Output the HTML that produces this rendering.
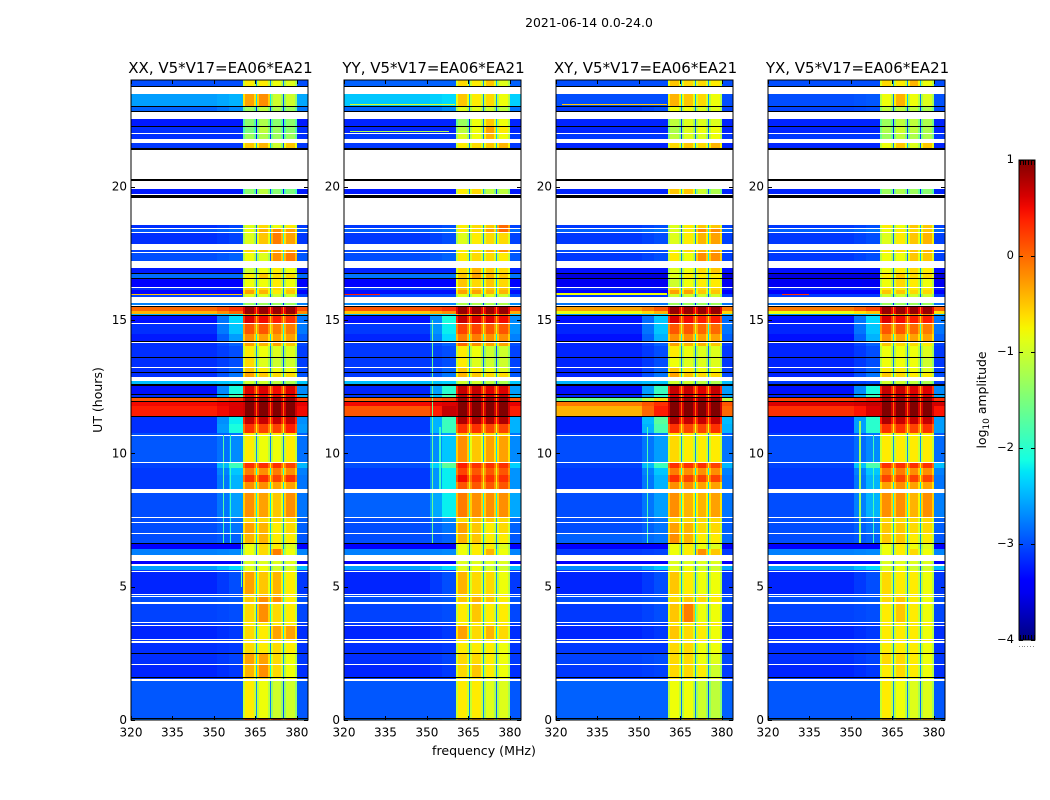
<!DOCTYPE html>
<html lang="en">
<head>
<meta charset="utf-8">
<title>2021-06-14 amplitude spectrograms</title>
<style>
html,body{margin:0;padding:0;background:#fff;width:1050px;height:800px;overflow:hidden}
svg{display:block}
text{font-family:"DejaVu Sans","Liberation Sans",sans-serif;fill:#000}
</style>
</head>
<body>
<svg id="figure" width="1050" height="800" viewBox="0 0 1050 800" xmlns="http://www.w3.org/2000/svg">
  <defs><linearGradient id="jet-gradient" x1="0" y1="1" x2="0" y2="0"></linearGradient></defs>
  <text x="589" y="27" font-size="12.4" text-anchor="middle">2021-06-14 0.0-24.0</text>
  <text x="484" y="755" font-size="12.6" text-anchor="middle">frequency (MHz)</text>
  <text transform="translate(102,400) rotate(-90)" font-size="12.5" text-anchor="middle">UT (hours)</text>
  <text transform="translate(986,400) rotate(-90)" font-size="12.4" text-anchor="middle">log<tspan font-size="9" dy="3">10</tspan><tspan dy="-3"> amplitude</tspan></text>
  <g id="panels"></g>
  <g id="colorbar"></g>
</svg>
<script>
// ---- axis labels ----
const panelTitles = ["XX, V5*V17=EA06*EA21", "YY, V5*V17=EA06*EA21", "XY, V5*V17=EA06*EA21", "YX, V5*V17=EA06*EA21"];
const freqTicks = [320, 335, 350, 365, 380];
const hourTicks = [0, 5, 10, 15, 20];
const colorTicks = [1, 0, -1, -2, -3, -4];

// ---- time rows: [top of row in UT hours, kind]  d=data, w=no data, k=flagged ----
const timeRows = [
[24.00,'d'],[23.78,'k'],[23.72,'w'],[23.49,'k'],[23.46,'d'],[23.04,'k'],[22.99,'d'],[22.85,'k'],[22.81,'w'],
[22.54,'d'],[22.28,'k'],[22.24,'d'],[22.01,'w'],[21.98,'d'],[21.80,'w'],[21.65,'d'],[21.44,'k'],[21.39,'w'],
[20.29,'k'],[20.22,'w'],[19.90,'d'],[19.74,'w'],[19.69,'k'],[19.59,'w'],[18.56,'d'],[18.46,'w'],[18.41,'d'],
[18.30,'w'],[18.26,'d'],[17.86,'w'],[17.63,'d'],[17.54,'w'],[17.50,'d'],[17.21,'w'],[16.94,'d'],[16.75,'k'],
[16.71,'d'],[16.59,'k'],[16.54,'d'],[16.25,'w'],[16.21,'d'],[16.14,'k'],[16.11,'d'],[15.98,'d'],[15.85,'w'],
[15.63,'d'],[15.57,'w'],[15.51,'k'],[15.47,'d'],[15.34,'d'],[15.21,'d'],[15.19,'k'],[15.15,'d'],[14.87,'w'],
[14.84,'d'],[14.49,'k'],[14.46,'d'],[14.22,'k'],[14.19,'w'],[14.15,'d'],[14.02,'d'],[13.60,'k'],[13.56,'d'],
[13.24,'w'],[13.20,'d'],[13.05,'k'],[13.01,'d'],[12.86,'w'],[12.71,'d'],[12.60,'k'],[12.54,'d'],[12.24,'k'],
[12.20,'d'],[12.12,'k'],[12.09,'d'],[11.96,'k'],[11.93,'d'],[11.79,'w'],[11.76,'d'],[11.41,'k'],[11.37,'d'],[11.10,'d'],
[10.78,'k'],[10.75,'d'],[10.69,'w'],[10.66,'d'],[9.66,'w'],[9.63,'d'],[9.45,'d'],[9.19,'d'],[8.92,'d'],
[8.65,'w'],[8.50,'d'],[7.63,'w'],[7.59,'d'],[7.43,'w'],[7.40,'d'],[7.02,'w'],[6.99,'d'],[6.63,'k'],[6.59,'d'],
[6.41,'d'],[6.19,'w'],[5.97,'d'],[5.85,'w'],[5.79,'d'],[5.64,'w'],[5.61,'d'],[5.57,'w'],[5.54,'d'],[4.71,'w'],
[4.68,'d'],[4.64,'w'],[4.60,'d'],[4.41,'w'],[4.36,'d'],[3.68,'w'],[3.63,'d'],[3.56,'w'],[3.51,'d'],[3.03,'w'],
[2.99,'d'],[2.95,'w'],[2.90,'d'],[2.50,'k'],[2.46,'d'],[2.10,'w'],[2.06,'d'],[1.62,'k'],[1.59,'d'],[1.54,'w'],
[1.46,'d'],[0.09,'k'],[0.05,'d']
];

// ---- log10 amplitude per data row: [continuum, roll-on, sub1, sub2, sub3, sub4] ----
const xxLevels = [
[-3,-3,-.7,-.7,-.8,-.9],[-2.6,-2.5,-.3,-.2,-1,-1],[-2.9,-2.7,-1.3,-1.1,-1.2,-1.3],[-3.25,-3.25,-1.4,-1.2,-1.4,-1.4],
[-3.15,-3.15,-1.5,-1.1,-1.3,-1.4],[-3.15,-3.15,-1.3,-1.2,-1.3,-1.3],[-3.1,-3.1,-.5,-.4,-1,-.5],[-3.25,-3.25,-1.4,-1.1,-1.4,-1.5],
[-3.15,-3.05,-.9,-.6,-.8,-.7],[-2.95,-2.85,-.8,-.4,-.2,-.3],[-3.15,-3.05,-.9,-.5,-.1,-.3],[-3.05,-3.05,-.6,-.5,-.3,-.3],
[-3,-2.9,-.8,-.9,-.2,-.1],[-3.25,-3.25,-1,-.8,-.7,-.8],[-2.85,-2.85,-.7,-.5,-.6,-.6],[-3.4,-3.4,-.8,-.8,-.7,-.8],
[-3.15,-3.15,-.6,-.6,-.6,-.6],[-3.35,-3.35,-.3,-.4,-.7,-.5],[-3.05,-3.05,-.9,-.9,-1,-1],[-2.75,-2.75,-1.3,-1.3,-1.3,-1.3],
[0,.3,.9,.9,.9,.9],[-.4,0,.9,.9,.9,.9],[-2.5,-2.2,-.2,-.2,-.2,-.2],[-3.3,-2.3,.6,.5,.4,.3],
[-3.15,-2.4,.1,.1,-.1,-.1],[-3.25,-2.6,-.2,-.3,-.3,-.3],[-3.15,-2.9,-.3,-.4,-.3,-.5],[-3.15,-3,-.7,-.8,-.9,-.9],
[-3.15,-3,-.6,-.9,-1,-1],[-3.15,-2.9,-.5,-.7,-.8,-.8],[-3.15,-2.8,-.3,-.5,-.6,-.6],[-2.45,-2.35,-1,-1,-1.1,-1.2],
[-3.3,-2.1,.6,.6,.5,.6],[-3.15,-1.8,.5,.5,.5,.5],[.1,.3,.9,.9,.9,.9],[.5,.6,1,1,1,1],
[.4,.6,1,1,1,1],[-3.15,-2.2,.7,.7,.7,.7],[-3.15,-2.1,.3,.2,.2,.4],[-3,-2.8,-.7,-.7,-.7,-.7],
[-2.95,-2.7,-.7,-.8,-.8,-.7],[-3.05,-1.9,.3,.3,.3,.2],[-3.1,-2.4,-.1,-.2,-.1,-.2],[-3.1,-2.5,.3,.3,.2,.3],
[-3.1,-2.5,-.2,-.2,-.3,-.3],[-3,-2.6,-.2,-.3,-.5,-.2],[-3,-2.8,-.6,-.6,-.6,-.6],[-3,-2.8,-.3,-.4,-.7,-.6],
[-3,-2.9,-.4,-.4,-.7,-.7],[-3.45,-3.4,-.8,-.6,-.7,-.9],[-2.75,-2.7,-.8,-.6,-.1,-.8],[-3.45,-3.45,-.9,-.9,-.9,-.9],
[-2.6,-2.3,-.9,-.8,-1,-1],[-3.1,-3.1,-.8,-.8,-.8,-.8],[-3.2,-3,-.3,-.5,-.4,-.7],[-3,-3,-.7,-.5,-.5,-.7],
[-3,-2.95,-.5,-.2,-.2,-.7],[-3.05,-3,-.6,-.2,-.6,-.7],[-3.1,-3.1,-.7,-.7,-.7,-.7],[-3.2,-3.1,-.6,-.7,-.3,-.3],
[-3.1,-3.1,-.7,-.7,-.7,-.7],[-3.15,-3.1,-.6,-.7,-.6,-.7],[-3.15,-3.05,-.3,-.3,-.6,-.8],[-3.2,-3.1,-.4,-.2,-.6,-.8],
[-3.1,-3.1,-.6,-.6,-.8,-.8],[-2.95,-2.95,-.7,-.8,-1,-1],[-2.8,-2.6,.3,.3,.3,.3]
];
const yyLevels = [
[-2.9,-2.9,-.6,-.7,-.5,-.9],[-2.4,-2.3,-.5,-.7,-.6,-.8],[-2.9,-2.7,-.9,-.9,-1,-1.1],[-3.2,-3.2,-1.3,-.8,-.5,-.8],
[-3.2,-3.2,-1.1,-.8,-.3,-.7],[-3.1,-3.1,-.9,-.8,-.4,-.8],[-3.1,-3.1,-.7,-.6,-.5,-.4],[-3.25,-3.25,-.7,-.6,-1.1,-1.1],
[-3.1,-3,-.7,-.6,-.5,0],[-2.9,-2.8,-.7,-.6,-.3,0],[-3.1,-3,-.9,-.7,-.6,-.6],[-3,-3,-.7,-.6,-.4,-.2],
[-3,-2.9,-.7,-.6,-.6,-.7],[-3.2,-3.2,-.6,-.4,-.5,-.6],[-2.8,-2.8,-.5,-.3,-.4,-.5],[-3.4,-3.4,-.5,-.6,-.5,-.6],
[-3.1,-3.1,-.5,-.5,-.5,-.5],[-3.3,-3.3,-.3,-.3,-.4,-.4],[-3,-3,-.9,-.9,-.9,-1],[-2.7,-2.7,-1.2,-1.2,-1.2,-1.2],
[.1,.3,.9,.9,.9,.9],[-.5,-.2,.9,.9,.9,.9],[-2.5,-2.2,-.1,-.1,-.1,-.1],[-3.3,-2.1,.7,.6,.6,.5],
[-3.1,-2.2,.2,.2,.1,.1],[-3.2,-2.3,-.1,-.1,-.2,-.2],[-3.1,-2.9,0,-.2,-.3,-.3],[-3.1,-3,-.7,-.8,-1,-1],
[-3.1,-3,-.7,-.9,-1,-1],[-3.1,-2.9,-.5,-.7,-.8,-.9],[-3.1,-2.8,-.4,-.5,-.6,-.6],[-2.45,-2.35,-1,-1,-1.1,-1.2],
[-3.2,-2,.7,.7,.6,.6],[-3.1,-1.8,.7,.7,.6,.7],[0,.2,.9,.9,.9,.9],[.5,.6,1,1,1,1],
[.1,.7,1,1,1,1],[-3.1,-1.9,.8,.8,.8,.8],[-3.1,-1.9,.3,.3,.2,.2],[-3,-2.6,-.5,-.6,-.6,-.6],
[-3,-2.4,-.2,-.5,-.3,-.3],[-3,-1.7,.4,.3,.3,.3],[-3.1,-2.2,.2,.1,.1,.1],[-3.1,-2.2,.5,.3,.3,.3],
[-3.1,-2.2,.1,.1,.1,.1],[-2.9,-2.2,-.1,-.2,-.2,-.2],[-3,-2.7,-.6,-.5,-.5,-.6],[-3,-2.8,-.3,-.5,-.7,-.6],
[-3,-2.9,-.4,-.5,-.7,-.7],[-3.45,-3.4,-.8,-.7,-.7,-.9],[-2.75,-2.7,-.8,-.7,-.4,-.8],[-3.45,-3.45,-.9,-.9,-.9,-.9],
[-2.6,-2.3,-.9,-.8,-1,-1],[-3.1,-3.1,-.8,-.8,-.8,-.8],[-3.2,-3,-.4,-.6,-.6,-.8],[-3,-3,-.7,-.6,-.6,-.7],
[-3,-2.95,-.5,-.4,-.5,-.7],[-3.05,-3,-.7,-.5,-.7,-.7],[-3.1,-3.1,-.7,-.7,-.7,-.7],[-3.2,-3.1,-.3,-.6,-.4,-.6],
[-3.1,-3.1,-.7,-.7,-.7,-.7],[-3.15,-3.1,-.7,-.7,-.7,-.8],[-3.15,-3.05,-.6,-.6,-.7,-.8],[-3.2,-3.1,-.6,-.5,-.7,-.8],
[-3.1,-3.1,-.7,-.7,-.8,-.8],[-2.95,-2.95,-.7,-.7,-.9,-.9],[-2.8,-2.6,-.3,-.3,-.3,-.3]
];
const xyLevels = [
[-3,-3,-.5,-.6,-.6,-.7],[-3,-3,-.4,-.5,-.6,-.8],[-3.1,-3,-.8,-.8,-.9,-.9],[-3.2,-3.2,-1.1,-.9,-.9,-.9],
[-3.2,-3.2,-1.2,-.9,-.8,-.8],[-3.1,-3.1,-1.1,-.9,-.9,-.8],[-3.2,-3.2,-.6,-.5,-.6,-.4],[-3.2,-3.2,-.5,-.5,-1,-1.2],
[-3.1,-3,-.9,-.7,-.5,-.5],[-2.9,-2.8,-.9,-.7,-.2,-.2],[-3.1,-3,-.9,-.7,-.4,-.3],[-3,-3,-.8,-.6,-.4,-.3],
[-3.1,-3,-.7,-.8,-.2,-.2],[-3.3,-3.3,-.9,-.8,-.6,-.5],[-3.6,-3.6,-.9,-.7,-.7,-.7],[-3.5,-3.5,-1,-.8,-.7,-.7],
[-3.2,-3.2,-.6,-.6,-.6,-.6],[-3.4,-3.4,-.3,-.3,-.5,-.5],[-3.1,-3.1,-1,-1,-1,-1],[-2.8,-2.8,-1.3,-1.3,-1.3,-1.3],
[-.3,.1,.9,.9,.9,.9],[-.8,-.4,.9,.9,.9,.9],[-2.6,-2.3,-.2,-.2,-.2,-.2],[-3.3,-2.4,.6,.5,.4,.4],
[-3.2,-2.4,.1,.1,0,0],[-3.3,-2.5,-.2,-.2,-.3,-.3],[-3.2,-2.9,-.3,-.4,-.4,-.5],[-3.2,-3,-.7,-.8,-.9,-.9],
[-3.2,-3,-.8,-.9,-.9,-.9],[-3.2,-2.9,-.5,-.7,-.8,-.8],[-3.2,-2.8,-.3,-.5,-.6,-.6],[-2.5,-2.4,-1,-1,-1.1,-1.2],
[-3.3,-1.9,.7,.7,.6,.7],[-3.2,-2,.6,.6,.5,.5],[-1.6,-.6,.9,.9,.9,.9],[-.1,.3,1,1,1,1],
[-.4,.4,1,1,1,1],[-3.2,-1.7,.8,.7,.7,.7],[-3.2,-1.8,.3,.2,.2,.3],[-3.1,-2.8,-.7,-.7,-.7,-.7],
[-3,-2.6,-.6,-.7,-.7,-.7],[-3.05,-1.9,.3,.3,.3,.2],[-3.1,-2.4,-.1,-.2,-.2,-.2],[-3.1,-2.5,.3,.2,.2,.2],
[-3.1,-2.5,-.2,-.2,-.3,-.3],[-3,-2.6,-.2,-.4,-.4,-.3],[-3,-2.8,-.6,-.6,-.6,-.6],[-3,-2.8,-.3,-.4,-.6,-.6],
[-2.9,-2.8,-.2,-.4,-.7,-.7],[-3.45,-3.4,-.8,-.7,-.8,-.9],[-3.1,-3.05,-.8,-.7,-.2,-.5],[-3.45,-3.45,-.9,-.9,-.9,-.9],
[-2.7,-2.4,-.9,-.8,-1,-1],[-3.1,-3.1,-.8,-.8,-.8,-.8],[-3.2,-3,-.5,-.7,-.8,-.8],[-3,-3,-.7,-.6,-.6,-.7],
[-3,-2.95,-.6,-.5,-.6,-.7],[-3.1,-3,-.5,-.1,-.8,-.8],[-3.1,-3.1,-.7,-.7,-.7,-.7],[-3.2,-3.1,-.5,-.6,-.7,-.8],
[-3.1,-3.1,-.7,-.7,-.7,-.7],[-3.1,-3.1,-.6,-.6,-.8,-.8],[-3.05,-3,-.6,-.6,-.8,-.9],[-3.1,-3.05,-.6,-.6,-.7,-1],
[-3.1,-3.1,-.7,-.7,-.8,-.9],[-2.9,-2.9,-.8,-.8,-1,-1.1],[-2.8,-2.6,-.3,-.3,-.3,-.3]
];
const yxLevels = [
[-3,-3,-.6,-.7,-.4,-.8],[-3,-2.95,-.8,-.4,-.8,-.9],[-3.05,-3,-1.1,-1.1,-1.1,-1.2],[-3.2,-3.2,-1.3,-1.1,-1.1,-1.2],
[-3.2,-3.2,-1.2,-1,-1.1,-1.2],[-3.1,-3.1,-1.3,-1.1,-1.2,-1.2],[-3.2,-3.2,-.8,-.5,-.9,-.5],[-3.2,-3.2,-1.3,-1.2,-1.3,-1.4],
[-3.1,-3,-.7,-.8,-.5,-.5],[-2.9,-2.8,-.8,-.7,-.6,-.5],[-3.1,-3,-.9,-.7,-.5,-.4],[-3,-3,-.7,-.6,-.5,-.4],
[-3.1,-3,-.8,-.8,-.5,-.5],[-3.3,-3.3,-.8,-.7,-.6,-.7],[-3.6,-3.6,-.7,-.5,-.6,-.6],[-3.5,-3.5,-.8,-.6,-.7,-.8],
[-3.2,-3.2,-.7,-.7,-.7,-.7],[-3.4,-3.4,-.5,-.5,-.6,-.6],[-3.1,-3.1,-1,-1,-1,-1],[-2.8,-2.8,-1.3,-1.3,-1.3,-1.3],
[-.1,.2,.9,.9,.9,.9],[-.8,-.5,.9,.9,.9,.9],[-2.6,-2.3,-.2,-.2,-.2,-.2],[-3.3,-2.3,.6,.5,.4,.4],
[-3.2,-2.4,.1,.1,0,-.1],[-3.3,-2.5,-.2,-.3,-.3,-.3],[-3.2,-2.9,-.5,-.6,-.6,-.7],[-3.2,-3,-.8,-.8,-.8,-.9],
[-3.2,-3,-.8,-.8,-.8,-1],[-3.2,-2.9,-.7,-.7,-.8,-.9],[-3.2,-2.8,-.5,-.6,-.7,-.7],[-3.1,-3,-1,-1,-1.1,-1.2],
[-3.3,-2.1,.7,.7,.6,.6],[-3.2,-1.9,.7,.7,.6,.6],[.2,.4,.9,.9,.9,.9],[.6,.7,1,1,1,1],
[.3,.6,1,1,1,1],[-3.2,-2,.8,.7,.7,.7],[-3.2,-2,.3,.3,.2,.3],[-3.1,-2.8,-.7,-.7,-.7,-.7],
[-3,-2.7,-.7,-.7,-.7,-.7],[-3.05,-1.8,.3,.3,.3,.3],[-3.1,-2.4,-.1,-.1,-.2,-.2],[-3.1,-2.5,.2,.2,.2,.2],
[-3.1,-2.5,-.3,-.2,-.3,-.3],[-3,-2.5,-.2,-.2,-.4,-.2],[-3,-2.8,-.6,-.6,-.6,-.6],[-3,-2.8,-.5,-.5,-.6,-.6],
[-3,-2.9,-.5,-.5,-.7,-.7],[-3.45,-3.4,-.8,-.7,-.8,-.9],[-2.75,-2.7,-.8,-.7,-.6,-.8],[-3.45,-3.45,-.9,-.9,-.9,-.9],
[-2.6,-2.3,-.9,-.8,-1,-1],[-3.1,-3.1,-.8,-.8,-.8,-.8],[-3.2,-3,-.6,-.7,-.7,-.8],[-3,-3,-.7,-.7,-.7,-.8],
[-3,-2.95,-.6,-.5,-.7,-.8],[-3.05,-3,-.7,-.5,-.7,-.8],[-3.1,-3.1,-.7,-.7,-.7,-.7],[-3.2,-3.1,-.7,-.7,-.7,-.8],
[-3.1,-3.1,-.7,-.7,-.7,-.7],[-3.15,-3.1,-.7,-.7,-.7,-.8],[-3.15,-3.05,-.6,-.6,-.7,-.8],[-3.2,-3.1,-.7,-.6,-.7,-.8],
[-3.1,-3.1,-.7,-.7,-.8,-.8],[-2.95,-2.95,-.7,-.8,-.9,-.9],[-2.8,-2.6,-.3,-.3,-.3,-.3]
];

// ---- narrow interference features: [freq from, freq to (MHz), hour from, hour to, level] ----
const xxSpurs = [[353.1,353.6,6.6,10.7,-1.7],[355.8,356.2,6.6,10.7,-1.9],[359.6,360.2,5,7,-1.7],[320,360,15.92,15.96,-.5]];
const yySpurs = [[351.7,352.2,6.6,15,-1.6],[354.5,355,8.6,11,-1.9],[322,360,23.07,23.11,-1],[320,333,15.92,15.98,.4],[322,358,22.05,22.09,-1.2]];
const xySpurs = [[352.8,353.3,6.6,11,-1.8],[322,360,23.07,23.11,-.5],[320,360,15.96,16,-.8]];
const yxSpurs = [[353,353.5,6.6,11.2,-1.3],[357.8,358.2,6.6,10.7,-1.8],[325,335,15.92,15.98,.3]];

const panelLevels = [xxLevels, yyLevels, xyLevels, yxLevels];
const panelSpurs = [xxSpurs, yySpurs, xySpurs, yxSpurs];

// ---- frequency layout of the receiver sub-bands (MHz) ----
const continuumRange = [320, 351];
const shoulderRange = [351, 355.5];
const rollOnRange = [355.5, 360.5];
const subBands = [[360.5, 365.2], [365.7, 370.2], [370.6, 374.9], [375.3, 380]];
const upperRange = [380, 384];

// ---- axes ----
const FREQ_MIN = 320, FREQ_MAX = 384, HOUR_MAX = 24, LEVEL_MIN = -4, LEVEL_MAX = 1;
const PLOT_TOP = 80, PLOT_H = 640, PLOT_W = 177;
const CB_X = 1019, CB_W = 16, CB_TOP = 160, CB_H = 480;
const NS = 'http://www.w3.org/2000/svg';

function panelLeft(p) { return Math.round(131.2 + p * 212.3); }
function xScale(p, f) { return panelLeft(p) + (f - FREQ_MIN) * PLOT_W / (FREQ_MAX - FREQ_MIN); }
function yScale(h) { return PLOT_TOP + PLOT_H - h * PLOT_H / HOUR_MAX; }
function cbScale(v) { return CB_TOP + CB_H - (v - LEVEL_MIN) * CB_H / (LEVEL_MAX - LEVEL_MIN); }

function ramp(x, pts) {
  for (let i = 1; i < pts.length; i++) {
    if (x <= pts[i][0]) {
      const a = pts[i - 1], b = pts[i];
      return a[1] + (b[1] - a[1]) * (x - a[0]) / (b[0] - a[0]);
    }
  }
  return pts[pts.length - 1][1];
}
function jet(level) {
  const x = Math.max(0, Math.min(1, (level - LEVEL_MIN) / (LEVEL_MAX - LEVEL_MIN)));
  const r = ramp(x, [[0, 0], [.35, 0], [.66, 1], [.89, 1], [1, .5]]);
  const g = ramp(x, [[0, 0], [.125, 0], [.375, 1], [.64, 1], [.91, 0], [1, 0]]);
  const b = ramp(x, [[0, .5], [.11, 1], [.34, 1], [.65, 0], [1, 0]]);
  return 'rgb(' + Math.round(r * 255) + ',' + Math.round(g * 255) + ',' + Math.round(b * 255) + ')';
}

function box(parent, x1, y1, x2, y2, fill) {
  const r = document.createElementNS(NS, 'rect');
  r.setAttribute('x', Math.round(x1));
  r.setAttribute('y', Math.round(y1));
  r.setAttribute('width', Math.max(1, Math.round(x2) - Math.round(x1)));
  r.setAttribute('height', Math.max(1, Math.round(y2) - Math.round(y1)));
  r.setAttribute('fill', fill);
  r.setAttribute('shape-rendering', 'crispEdges');
  parent.appendChild(r);
  return r;
}
function stroke(parent, x1, y1, x2, y2) {
  const l = document.createElementNS(NS, 'line');
  l.setAttribute('x1', x1);
  l.setAttribute('y1', y1);
  l.setAttribute('x2', x2);
  l.setAttribute('y2', y2);
  l.setAttribute('stroke', '#000');
  l.setAttribute('stroke-width', 1);
  l.setAttribute('shape-rendering', 'crispEdges');
  parent.appendChild(l);
  return l;
}
function label(parent, x, y, size, anchor, str) {
  const t = document.createElementNS(NS, 'text');
  t.setAttribute('x', x);
  t.setAttribute('y', y);
  t.setAttribute('font-size', size);
  t.setAttribute('text-anchor', anchor);
  t.textContent = str;
  parent.appendChild(t);
  return t;
}

const panelsGroup = document.getElementById('panels');

panelTitles.forEach(function (title, p) {
  const g = document.createElementNS(NS, 'g');
  
  
  panelsGroup.appendChild(g);

  const levels = panelLevels[p];
  let dataIndex = 0;
  timeRows.forEach(function (row, i) {
    const top = row[0];
    const bottom = i + 1 < timeRows.length ? timeRows[i + 1][0] : 0;
    const y1 = yScale(top), y2 = yScale(bottom);
    if (row[1] === 'k') {
      const flag = box(g, xScale(p, FREQ_MIN), y1, xScale(p, FREQ_MAX), y2, '#000');
      
      
      return;
    }
    if (row[1] !== 'd') return;
    const v = levels[dataIndex++];
    const cont = box(g, xScale(p, continuumRange[0]), y1, xScale(p, continuumRange[1]), y2, jet(v[0]));
    
    
    const shoulder = box(g, xScale(p, shoulderRange[0]), y1, xScale(p, shoulderRange[1]), y2, jet((v[0] + v[1]) / 2));
    
    
    const rollOn = box(g, xScale(p, rollOnRange[0]), y1, xScale(p, rollOnRange[1]), y2, jet(v[1]));
    
    
    subBands.forEach(function (band, s) {
      const level = v[2 + s];
      const next = s < 3 ? subBands[s + 1][0] : band[1];
      const gap = box(g, xScale(p, band[1]), y1, xScale(p, next), y2, jet(level - (level > 0 ? 1 : 2)));
      
      
      const outer = box(g, xScale(p, band[0]), y1, xScale(p, band[1]), y2, jet(level - .35));
      
      
      const inner = box(g, xScale(p, band[0] + .6), y1, xScale(p, band[1] - .6), y2, jet(level));
      
      
    });
    const upper = box(g, xScale(p, upperRange[0]), y1, xScale(p, upperRange[1]), y2, jet((v[0] + v[1]) / 2));
    
    
  });

  panelSpurs[p].forEach(function (s) {
    timeRows.forEach(function (row, i) {
      if (row[1] !== 'd') return;
      const top = Math.min(row[0], s[3]);
      const bottom = Math.max(i + 1 < timeRows.length ? timeRows[i + 1][0] : 0, s[2]);
      if (top <= bottom) return;
      const spur = box(g, xScale(p, s[0]), yScale(top), xScale(p, s[1]), yScale(bottom), jet(s[4]));
      
      
    });
  });

  const left = panelLeft(p), right = left + PLOT_W;
  const bottomY = PLOT_TOP + PLOT_H;

  freqTicks.forEach(function (f) {
    const x = Math.round(xScale(p, f)) + .5;
    const tb = stroke(g, x, bottomY, x, bottomY - 4);
    
    
    const tt = stroke(g, x, PLOT_TOP, x, PLOT_TOP + 4);
    
    
    const xl = label(g, xScale(p, f), bottomY + 16.5, 12, 'middle', String(f));
    
    
  });
  hourTicks.forEach(function (h) {
    const y = Math.round(yScale(h)) + .5;
    const tl = stroke(g, left, y, left + 4, y);
    
    
    const tr = stroke(g, right - 4, y, right, y);
    
    
    const yl = label(g, left - 4, yScale(h) + 4, 12, 'end', String(h));
    
    
  });

  const frame = document.createElementNS(NS, 'rect');
  
  
  frame.setAttribute('x', left);
  frame.setAttribute('y', PLOT_TOP);
  frame.setAttribute('width', PLOT_W);
  frame.setAttribute('height', PLOT_H);
  frame.setAttribute('fill', 'none');
  frame.setAttribute('stroke', '#000');
  frame.setAttribute('stroke-width', 1);
  g.appendChild(frame);

  const tt = label(g, left + PLOT_W / 2 + 1, 73, 15, 'middle', title);
  
  
});

// ---- colorbar ----
const grad = document.getElementById('jet-gradient');
for (let i = 0; i <= 40; i++) {
  const stop = document.createElementNS(NS, 'stop');
  stop.setAttribute('offset', (i / 40).toFixed(3));
  stop.setAttribute('stop-color', jet(LEVEL_MIN + (LEVEL_MAX - LEVEL_MIN) * i / 40));
  grad.appendChild(stop);
}
const cb = document.getElementById('colorbar');
const cbFill = document.createElementNS(NS, 'rect');


cbFill.setAttribute('x', CB_X);
cbFill.setAttribute('y', CB_TOP);
cbFill.setAttribute('width', CB_W);
cbFill.setAttribute('height', CB_H);
cbFill.setAttribute('fill', 'url(#jet-gradient)');
cbFill.setAttribute('stroke', '#000');
cbFill.setAttribute('stroke-width', 1);
cb.appendChild(cbFill);

colorTicks.forEach(function (v) {
  const y = Math.round(cbScale(v)) + .5;
  const a = stroke(cb, CB_X, y, CB_X + 4, y);
  
  
  const b = stroke(cb, CB_X + CB_W - 4, y, CB_X + CB_W, y);
  
  
  const text = v < 0 ? '\u2212' + Math.abs(v) : String(v);
  const t = label(cb, CB_X - 5, cbScale(v) + 3, 11.5, 'end', text);
  
  
});
for (let i = 0; i < 6; i++) {
  const x = CB_X + 1.5 + Math.round(i * 2.7);
  const tickTop = stroke(cb, x, CB_TOP, x, CB_TOP + 5);
  
  
  const tickBottom = stroke(cb, x, CB_TOP + CB_H - 5, x, CB_TOP + CB_H);
  
  
  const dot = box(cb, x - 2, CB_TOP + CB_H + 6, x - 1, CB_TOP + CB_H + 7, '#888');
  
  
}
</script>
</body>
</html>
